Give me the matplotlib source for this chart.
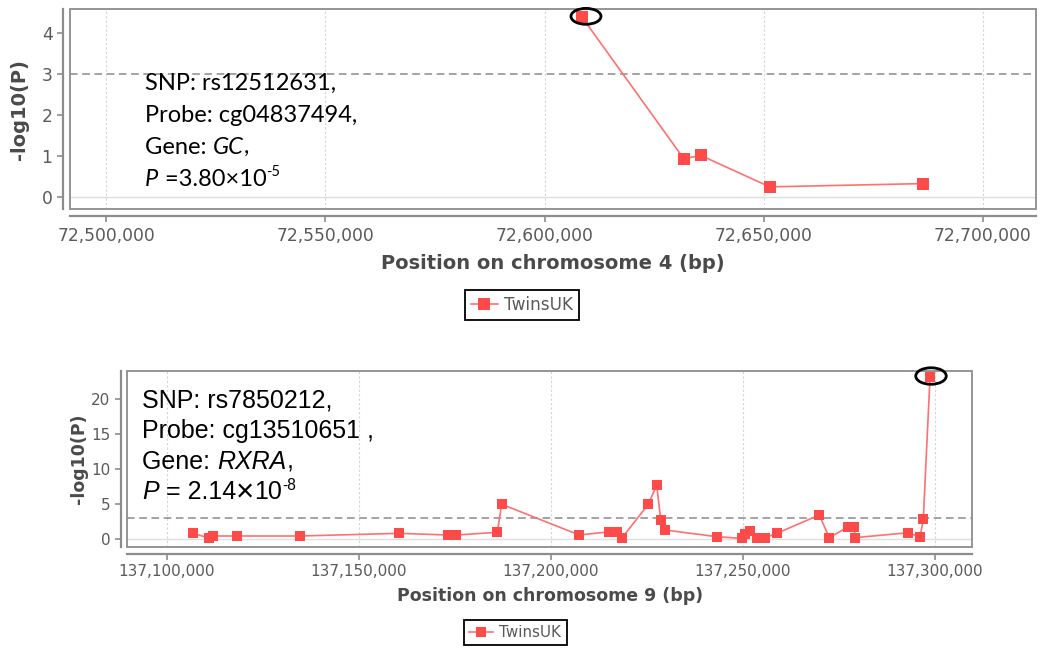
import matplotlib
matplotlib.use('Agg')
import matplotlib.pyplot as plt
from matplotlib.patches import Ellipse, Rectangle
from matplotlib.ticker import FuncFormatter, FixedLocator

# chromosome 4 region (GC)
chr4_pos = [72608500, 72631800, 72635700, 72651400, 72686500]
chr4_logp = [4.41, 0.93, 1.01, 0.24, 0.32]
chr4_ticks_x = [72500000, 72550000, 72600000, 72650000, 72700000]
chr4_ticks_y = [0, 1, 2, 3, 4]
chr4_lead = (72609470, 4.42)

# chromosome 9 region (RXRA)
chr9_pos = [137106850, 137111020, 137112060, 137118150, 137134640, 137160500,
            137173180, 137175260, 137186020, 137187160, 137207370, 137215180,
            137217270, 137218410, 137225340, 137227520, 137228570, 137229690,
            137243150, 137249660, 137250520, 137251820, 137253570, 137255730,
            137258770, 137269870, 137272470, 137277420, 137278910, 137279170,
            137293050, 137296090, 137296950, 137298700]
chr9_logp = [0.77, 0.06, 0.39, 0.39, 0.39, 0.77,
             0.53, 0.53, 0.92, 4.94, 0.53, 1.0,
             1.0, 0.06, 4.94, 7.7, 2.68, 1.25,
             0.29, 0.05, 0.67, 1.1, 0.15, 0.15,
             0.77, 3.4, 0.15, 1.72, 1.72, 0.15,
             0.86, 0.2, 2.78, 23.15]
chr9_ticks_x = [137100000, 137150000, 137200000, 137250000, 137300000]
chr9_ticks_y = [0, 5, 10, 15, 20]
chr9_lead = (137298960, 23.34)

threshold = 3
series_name = 'TwinsUK'

LINE_C = '#ff7070'
MARK_C = '#ff4a4a'
AX_C = '#8c8c8c'
TICK_C = '#5a5a5a'
LABEL_C = '#4a4a4a'


def rich_line(ax, x, y, parts, size, family):
    # chain text pieces so italic / superscript parts sit on one line
    t = None
    for s, style, rel, dy in parts:
        kw = dict(fontsize=size * rel, family=family, style=style, color='black')
        if t is None:
            t = ax.text(x, y, s, transform=ax.transAxes, va='baseline', **kw)
        else:
            t = ax.annotate(s, xy=(1, 0), xycoords=t, xytext=(0, dy),
                            textcoords='offset points', va='bottom', **kw)


def style_axes(ax, xticks, yticks, xlim, ylim, tick_size, label_size, xlabel,
               xpad, ypad, offset):
    ax.set_xlim(*xlim)
    ax.set_ylim(*ylim)
    ax.xaxis.set_major_locator(FixedLocator(xticks))
    ax.yaxis.set_major_locator(FixedLocator(yticks))
    ax.xaxis.set_major_formatter(FuncFormatter(lambda v, p: f'{v:,.0f}'))
    for side in ['top', 'right']:
        ax.spines[side].set_visible(False)
    for side in ['left', 'bottom']:
        ax.spines[side].set_position(('outward', offset))
        ax.spines[side].set_color(AX_C)
        ax.spines[side].set_linewidth(1.6)
    ax.add_patch(Rectangle((0, 0), 1, 1, transform=ax.transAxes, fill=False,
                           edgecolor=AX_C, linewidth=1.3, clip_on=False, zorder=5))
    ax.tick_params(colors=AX_C, labelcolor=TICK_C, labelsize=tick_size,
                   length=4, width=1.2, direction='out')
    for v in xticks:
        ax.axvline(v, color='#d4d4d4', linestyle=(0, (2, 2)), linewidth=0.8, zorder=0)
    ax.axhline(0, color='#dedede', linewidth=1.0, zorder=0)
    ax.axhline(threshold, color='#8a8a8a', linestyle=(0, (5, 3)), linewidth=1.1, zorder=1)
    ax.set_xlabel(xlabel, fontsize=label_size, fontweight='bold', color=LABEL_C,
                  labelpad=xpad)
    ax.set_ylabel('-log10(P)', fontsize=label_size, fontweight='bold', color=LABEL_C,
                  labelpad=ypad)


fig = plt.figure(figsize=(10.43, 6.52), dpi=100)
ax1 = fig.add_axes([0.0671, 0.679, 0.9262, 0.3072])
ax2 = fig.add_axes([0.1218, 0.1606, 0.8104, 0.2708])

# top panel
ax1.plot(chr4_pos, chr4_logp, color=LINE_C, linewidth=1.2, marker='s',
         markersize=8, markerfacecolor=MARK_C, markeredgewidth=0, zorder=3,
         label=series_name)
style_axes(ax1, chr4_ticks_x, chr4_ticks_y, (72491670, 72712210), (-0.31, 4.6),
           12.3, 14, 'Position on chromosome 4 (bp)', 6.5, 9, 5)
ax1.add_patch(Ellipse(chr4_lead, 6850, 0.39, fill=False, edgecolor='black',
                      linewidth=2.0, zorder=6, clip_on=False))
txt1 = 'Lato'
y0 = 0.595
step = 0.16
rich_line(ax1, 0.078, y0, [('SNP: rs12512631,', 'normal', 1, 0)], 17, txt1)
rich_line(ax1, 0.078, y0 - step, [('Probe: cg04837494,', 'normal', 1, 0)], 17, txt1)
rich_line(ax1, 0.078, y0 - 2 * step, [('Gene: ', 'normal', 1, 0), ('GC', 'italic', 1, 0),
                                      (',', 'normal', 1, 0)], 17, txt1)
rich_line(ax1, 0.078, y0 - 3 * step, [('P', 'italic', 1, 0), (' =3.80×10', 'normal', 1, 0),
                                      ('-5', 'normal', 0.62, 8)], 17, txt1)

# bottom panel
ax2.plot(chr9_pos, chr9_logp, color=LINE_C, linewidth=1.2, marker='s',
         markersize=7.5, markerfacecolor=MARK_C, markeredgewidth=0, zorder=3,
         label=series_name)
style_axes(ax2, chr9_ticks_x, chr9_ticks_y, (137089580, 137309710), (-1.23, 24.1),
           11, 12.5, 'Position on chromosome 9 (bp)', 5.5, 2, 4.5)
ax2.add_patch(Ellipse(chr9_lead, 7940, 2.37, fill=False, edgecolor='black',
                      linewidth=2.0, zorder=6, clip_on=False))
txt2 = 'Liberation Sans'
y0 = 0.79
step = 0.172
rich_line(ax2, 0.018, y0, [('SNP: rs7850212,', 'normal', 1, 0)], 18, txt2)
rich_line(ax2, 0.018, y0 - step, [('Probe: cg13510651 ,', 'normal', 1, 0)], 18, txt2)
rich_line(ax2, 0.018, y0 - 2 * step, [('Gene: ', 'normal', 1, 0), ('RXRA', 'italic', 1, 0),
                                      (',', 'normal', 1, 0)], 18, txt2)
rich_line(ax2, 0.018, y0 - 3 * step, [('P', 'italic', 1, 0), (' = 2.14', 'normal', 1, 0),
                                      ('×', 'normal', 1.25, -3), ('10', 'normal', 1, 3),
                                      ('-8', 'normal', 0.62, 8)], 18, txt2)

# legends
for ax, anchor, size in [(ax1, (0.5005, 0.532), 12.2), (ax2, (0.494, 0.030), 10.9)]:
    h, l = ax.get_legend_handles_labels()
    leg = fig.legend(h, l, loc='center', bbox_to_anchor=anchor, fancybox=False,
                     edgecolor='black', framealpha=1, fontsize=size, handlelength=1.6,
                     handletextpad=0.4, borderpad=0.35, labelcolor=TICK_C)
    leg.get_frame().set_linewidth(1.3)

fig.savefig('out.png', dpi=100)
